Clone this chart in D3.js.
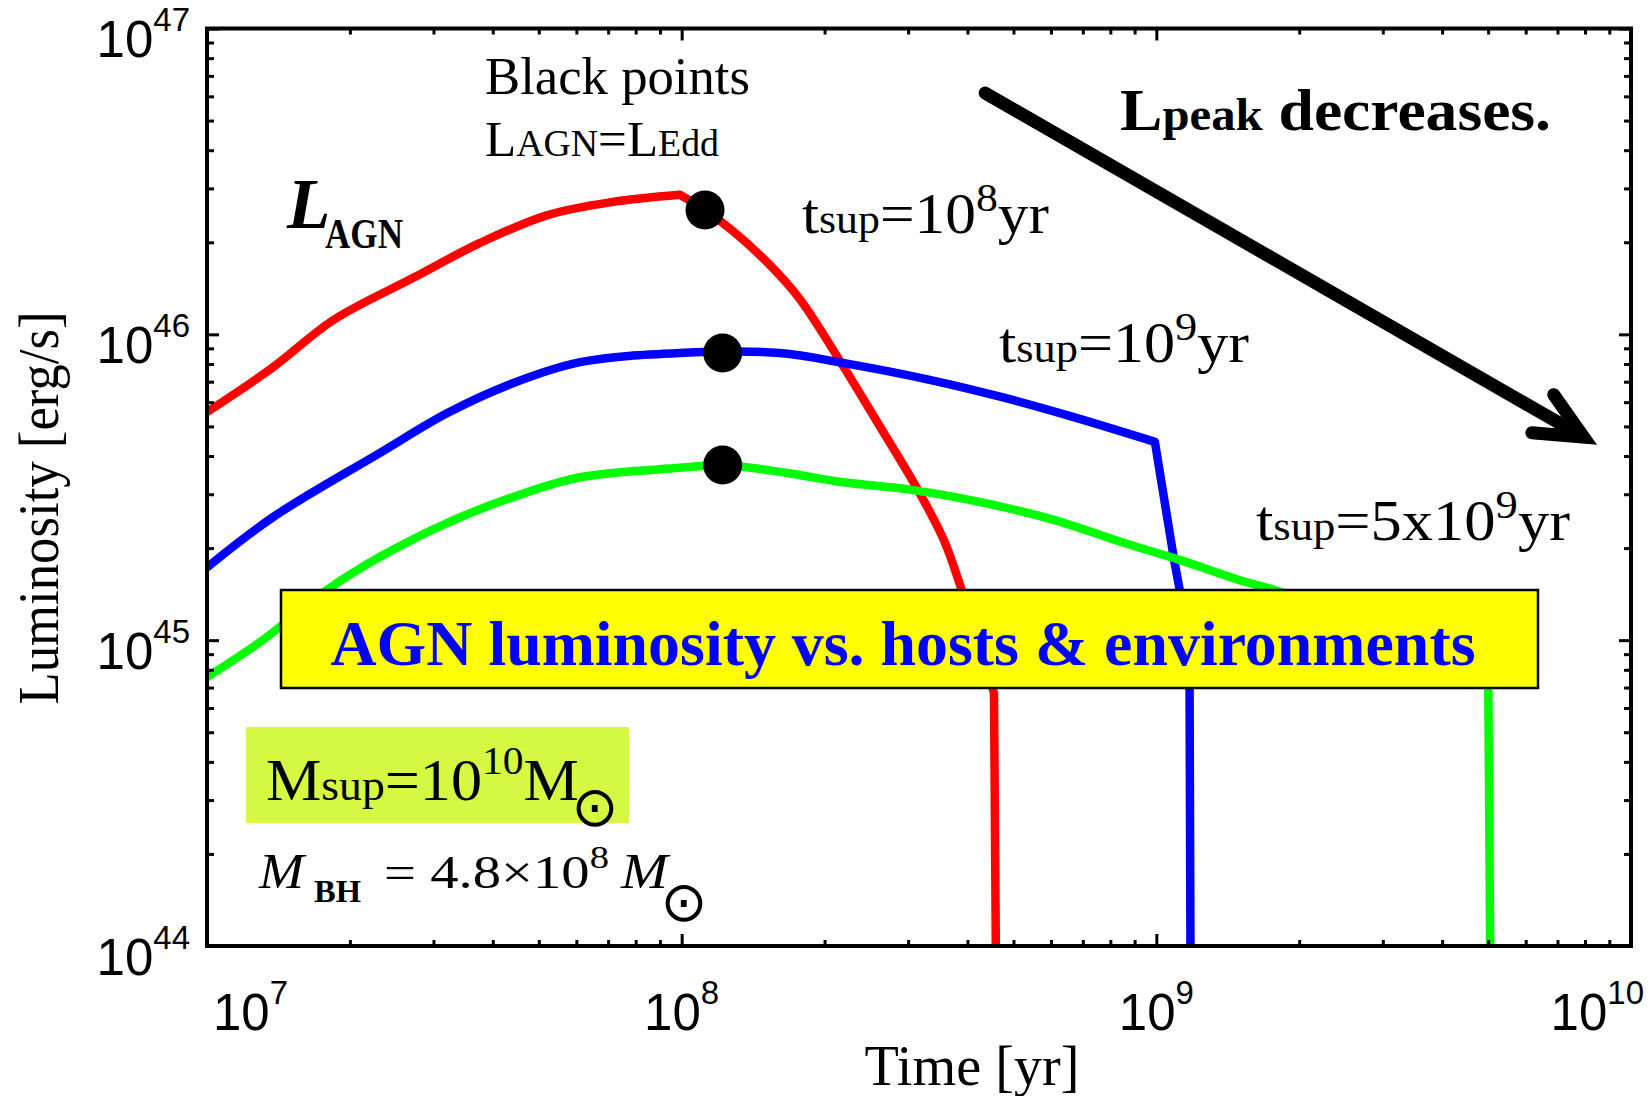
<!DOCTYPE html>
<html>
<head>
<meta charset="utf-8">
<script src="https://cdn.jsdelivr.net/npm/d3@7"></script>
<style>
  html, body { margin: 0; padding: 0; background: #fff; }
  svg { display: block; }
  text { white-space: pre; }
</style>
</head>
<body>
<svg id="chart" width="1652" height="1096"></svg>
<script>
// AGN light curves for three suppression timescales (time in yr, luminosity in erg/s)
const redTime = [1.00e7, 1.38e7, 1.84e7, 2.72e7, 3.76e7, 5.20e7, 7.16e7, 9.91e7, 1.12e8, 1.28e8,
                 1.52e8, 1.77e8, 2.17e8, 2.62e8, 3.12e8, 3.57e8, 3.89e8, 4.25e8, 4.55e8, 4.59e8];
const redLum  = [5.57e45, 7.82e45, 1.11e46, 1.53e46, 1.99e46, 2.45e46, 2.71e46, 2.86e46, 2.55e46, 2.18e46,
                 1.71e46, 1.31e46, 8.05e45, 4.98e45, 3.17e45, 2.12e45, 1.46e45, 9.64e44, 6.71e44, 1.0e44];

const blueTime = [1.00e7, 1.38e7, 2.31e7, 3.21e7, 4.42e7, 6.11e7, 9.91e7, 1.61e8, 2.20e8, 3.33e8,
                  4.71e8, 6.67e8, 9.93e8, 1.09e9, 1.12e9, 1.175e9, 1.18e9];
const blueLum  = [1.73e45, 2.53e45, 4.09e45, 5.53e45, 6.93e45, 8.11e45, 8.69e45, 8.69e45, 8.05e45, 7.10e45,
                  6.24e45, 5.37e45, 4.45e45, 1.83e45, 1.46e45, 6.87e44, 1.0e44];

const greenTime = [1.00e7, 1.31e7, 1.79e7, 2.31e7, 3.21e7, 4.42e7, 6.11e7, 9.91e7, 1.22e8, 1.67e8,
                   2.17e8, 3.05e8, 4.34e8, 6.11e8, 8.63e8, 1.12e9, 1.50e9, 1.77e9, 3.26e9, 5.00e9, 5.05e9];
const greenLum  = [7.57e44, 1.00e45, 1.46e45, 1.87e45, 2.42e45, 2.94e45, 3.41e45, 3.66e45, 3.74e45, 3.52e45,
                   3.29e45, 3.10e45, 2.81e45, 2.47e45, 2.07e45, 1.83e45, 1.57e45, 1.46e45, 1.06e45, 8.49e44, 1.0e44];

// Times where each light curve has a corner (peak turnover / start of the final cut-off)
const redCorners = [9.91e7, 4.55e8];
const blueCorners = [9.93e8];
const greenCorners = [5.00e9];

// Points where L_AGN reaches the Eddington luminosity
const eddTime = [1.12e8, 1.22e8, 1.22e8];
const eddLum  = [2.55e46, 8.69e45, 3.74e45];

// Decade tick labels (exponents of ten)
const xTickExponents = [7, 8, 9, 10];
const yTickExponents = [44, 45, 46, 47];

// Trend arrow end points (time, luminosity)
const trendFrom = [4.36e8, 6.15e46];
const trendTo   = [7.95e9, 4.61e45];

const W = 1652, H = 1096;
const X0 = 207, X1 = 1631, Y0 = 28.5, Y1 = 946;

const svg = d3.select('#chart');
const x = d3.scaleLog().domain([1e7, 1e10]).range([X0, X1]);
const y = d3.scaleLog().domain([1e44, 1e47]).range([Y1, Y0]);

svg.append('defs').append('clipPath').attr('id', 'plotClip')
  .append('rect').attr('x', X0).attr('y', Y0).attr('width', X1 - X0).attr('height', Y1 - Y0);

// Curves: smooth between corners, straight for the final cut-off
const smooth = d3.line().x(d => x(d[0])).y(d => y(d[1])).curve(d3.curveCatmullRom.alpha(0.5));
const straight = d3.line().x(d => x(d[0])).y(d => y(d[1]));
function curvePath(times, lums, corners) {
  const pts = times.map((t, i) => [t, lums[i]]);
  const cuts = corners.map(c => times.indexOf(c));
  let d = '', start = 0;
  cuts.forEach(ci => { d += smooth(pts.slice(start, ci + 1)); start = ci; });
  d += straight(pts.slice(start));
  return d;
}
const series = [
  { t: redTime, l: redLum, c: redCorners, color: '#ff0000' },
  { t: blueTime, l: blueLum, c: blueCorners, color: '#0000ff' },
  { t: greenTime, l: greenLum, c: greenCorners, color: '#00ff00' }
];
const curves = svg.append('g').attr('clip-path', 'url(#plotClip)');
series.forEach(s => {
  curves.append('path')
    .attr('d', curvePath(s.t, s.l, s.c))
    .attr('fill', 'none')
    .attr('stroke', s.color)
    .attr('stroke-width', 8.5)
    .attr('stroke-linejoin', 'round')
    .attr('stroke-linecap', 'round');
});

// Eddington points
svg.append('g').selectAll('circle')
  .data(eddTime.map((t, i) => [t, eddLum[i]]))
  .join('circle')
  .attr('cx', d => x(d[0])).attr('cy', d => y(d[1]))
  .attr('r', 19.5).attr('fill', '#000');

// Trend arrow
{
  const ax0 = x(trendFrom[0]), ay0 = y(trendFrom[1]);
  const ax1 = x(trendTo[0]), ay1 = y(trendTo[1]);
  const th = Math.atan2(ay1 - ay0, ax1 - ax0);
  const len = 52, a = 25 * Math.PI / 180;
  const b1 = [ax1 - len * Math.cos(th - a), ay1 - len * Math.sin(th - a)];
  const b2 = [ax1 - len * Math.cos(th + a), ay1 - len * Math.sin(th + a)];
  svg.append('path')
    .attr('d', `M${ax0},${ay0}L${ax1},${ay1}M${b1[0]},${b1[1]}L${ax1},${ay1}L${b2[0]},${b2[1]}`)
    .attr('fill', 'none').attr('stroke', '#000').attr('stroke-width', 13)
    .attr('stroke-linecap', 'round').attr('stroke-linejoin', 'miter');
}

// Rich text helper: parts carry their own size / weight / style / baseline shift
function richText(x0, y0, parts, opts = {}) {
  const t = svg.append('text')
    .attr('x', x0).attr('y', y0)
    .attr('font-family', opts.family || '"Liberation Serif", "Times New Roman", serif')
    .attr('fill', opts.fill || '#000')
    .attr('text-anchor', opts.anchor || 'start');
  if (opts.width) t.attr('textLength', opts.width).attr('lengthAdjust', 'spacingAndGlyphs');
  parts.forEach(p => {
    const s = t.append('tspan').text(p.text).attr('font-size', p.size);
    if (p.dy) s.attr('dy', p.dy);
    if (p.weight) s.attr('font-weight', p.weight);
    if (p.style) s.attr('font-style', p.style);
  });
  return t;
}
function sun(cx, cy, size) {
  svg.append('text').attr('x', cx).attr('y', cy)
    .attr('font-family', '"DejaVu Sans", sans-serif')
    .attr('font-size', size).attr('text-anchor', 'middle')
    .attr('dominant-baseline', 'central').text('\u2299');
}

// Annotation boxes
svg.append('rect').attr('x', 281).attr('y', 590).attr('width', 1257).attr('height', 98)
  .attr('fill', '#ffff00').attr('stroke', '#000').attr('stroke-width', 2.5);
richText(903, 665, [{ text: 'AGN luminosity vs. hosts & environments', size: 64, weight: 'bold' }],
  { anchor: 'middle', fill: '#0000ff', width: 1145 });

svg.append('rect').attr('x', 246).attr('y', 727).attr('width', 383).attr('height', 96)
  .attr('fill', '#d5f840');
richText(266, 800, [
  { text: 'M', size: 60 }, { text: 'sup', size: 44 }, { text: '=10', size: 60 },
  { text: '10', size: 40, dy: -26 }, { text: 'M', size: 60, dy: 26 }
], { width: 313 });
sun(595, 806, 56);

richText(259, 888, [{ text: 'M', size: 50, style: 'italic' }], { width: 45 });
richText(314, 902, [{ text: 'BH', size: 31, weight: 'bold' }], { width: 47 });
richText(384, 888, [
  { text: '= 4.8\u00d710', size: 47 }, { text: '8', size: 32, dy: -20 }
], { width: 225 });
richText(621, 888, [{ text: 'M', size: 50, style: 'italic' }], { width: 47 });
sun(684, 901, 56);

// Labels inside the plot
richText(287, 228, [{ text: 'L', size: 71, weight: 'bold', style: 'italic' }]);
richText(325, 248, [{ text: 'AGN', size: 42, weight: 'bold' }], { width: 78 });

richText(485, 94, [{ text: 'Black points', size: 52 }], { width: 265 });
richText(485, 156, [
  { text: 'L', size: 50 }, { text: 'AGN', size: 37 }, { text: '=', size: 50 },
  { text: 'L', size: 50 }, { text: 'Edd', size: 37 }
], { width: 234 });

function tsup(x0, y0, mant, expo, width) {
  richText(x0, y0, [
    { text: 't', size: 56 }, { text: 'sup', size: 40 }, { text: '=' + mant + '10', size: 56 },
    { text: expo, size: 40, dy: -22 }, { text: 'yr', size: 56, dy: 22 }
  ], { width });
}
tsup(802, 233, '', '8', 247);
tsup(999, 362, '', '9', 250);
tsup(1256, 540, '5x', '9', 314);

richText(1120, 130, [
  { text: 'L', size: 60, weight: 'bold' }, { text: 'peak', size: 46, weight: 'bold' },
  { text: ' decreases.', size: 60, weight: 'bold' }
], { width: 431 });

// Frame and ticks (all ticks point inward)
const majors = xTickExponents.map(e => Math.pow(10, e));
const xMinors = [];
for (let e = 7; e < 10; e++) for (let k = 2; k <= 9; k++) xMinors.push(k * Math.pow(10, e));
const yMajors = yTickExponents.map(e => Math.pow(10, e));
const yMinors = [];
for (let e = 44; e < 47; e++) for (let k = 2; k <= 9; k++) yMinors.push(k * Math.pow(10, e));

function ticks(axisFn, scale, values, size, tx, ty) {
  svg.append('g').attr('transform', `translate(${tx},${ty})`)
    .call(axisFn(scale).tickValues(values).tickSize(size).tickFormat(''))
    .call(g => g.select('.domain').remove())
    .call(g => g.selectAll('line').attr('stroke', '#000').attr('stroke-width', 3));
}
ticks(d3.axisBottom, x, majors, -12, 0, Y1);
ticks(d3.axisBottom, x, xMinors, -6, 0, Y1);
ticks(d3.axisTop, x, majors, -12, 0, Y0);
ticks(d3.axisTop, x, xMinors, -6, 0, Y0);
ticks(d3.axisLeft, y, yMajors, -12, X0, 0);
ticks(d3.axisLeft, y, yMinors, -7, X0, 0);
ticks(d3.axisRight, y, yMajors, -12, X1, 0);
ticks(d3.axisRight, y, yMinors, -7, X1, 0);

svg.append('rect').attr('x', X0).attr('y', Y0).attr('width', X1 - X0).attr('height', Y1 - Y0)
  .attr('fill', 'none').attr('stroke', '#000').attr('stroke-width', 4);

// Tick labels as 10^n
const sans = '"Liberation Sans", Arial, sans-serif';
yTickExponents.forEach(e => {
  const t = svg.append('text').attr('x', 190).attr('y', y(Math.pow(10, e)) + 28.5)
    .attr('font-family', sans).attr('text-anchor', 'end');
  t.append('tspan').attr('font-size', 51).text('10');
  t.append('tspan').attr('font-size', 33).attr('dy', -26).text(e);
});
xTickExponents.forEach(e => {
  const t = svg.append('text').attr('x', 0).attr('y', 1030)
    .attr('font-family', sans);
  t.append('tspan').attr('font-size', 51).text('10');
  t.append('tspan').attr('font-size', 33).attr('dy', -26).text(e);
  const w = t.node().getComputedTextLength();
  let left = x(Math.pow(10, e)) - w / 2;
  left = Math.max(X0 + 6, Math.min(W - 8 - w, left));
  t.attr('x', left);
});

// Axis titles
richText(972, 1085, [{ text: 'Time [yr]', size: 56 }], { anchor: 'middle', width: 215 });
svg.append('text')
  .attr('transform', 'translate(58,508) rotate(-90)')
  .attr('font-family', '"Liberation Serif", "Times New Roman", serif')
  .attr('font-size', 58).attr('text-anchor', 'middle')
  .attr('textLength', 393).attr('lengthAdjust', 'spacingAndGlyphs')
  .text('Luminosity [erg/s]');
</script>
</body>
</html>
